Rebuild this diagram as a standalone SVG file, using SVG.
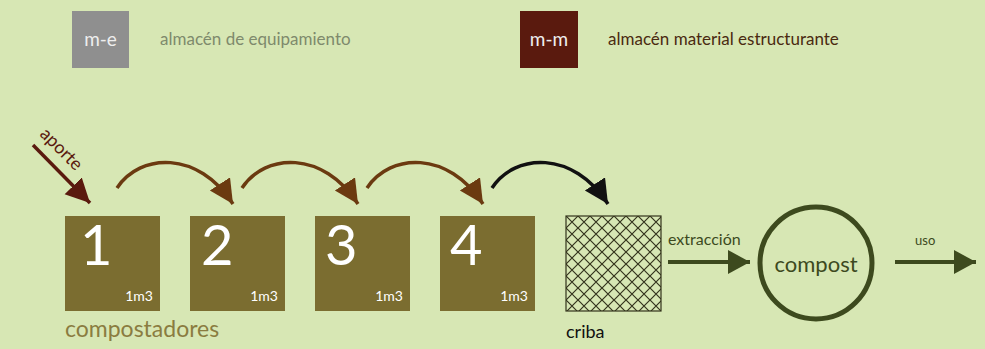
<svg xmlns="http://www.w3.org/2000/svg" width="985" height="349" viewBox="0 0 985 349">
<style>
text{font-family:Lato,"Open Sans","DejaVu Sans",sans-serif}
.box{fill:#7b6d30}
.num{fill:#ffffff;font-size:56px}
.vol{fill:#ffffff;font-size:14px;text-anchor:end}
.arcb{fill:none;stroke:#6b3a10;stroke-width:3.5}
.arck{fill:none;stroke:#111111;stroke-width:3.5}
.dark{fill:#3d4a1e}
.darks{stroke:#3d4a1e;stroke-width:4;fill:none}
</style>
<defs>
<marker id="hb" markerUnits="userSpaceOnUse" markerWidth="28" markerHeight="28" refX="24" refY="12" orient="auto" viewBox="0 0 28 28"><path d="M0,0 L24,12 L0,24 z" fill="#6b3a10"/></marker>
<marker id="hk" markerUnits="userSpaceOnUse" markerWidth="28" markerHeight="28" refX="24" refY="12" orient="auto" viewBox="0 0 28 28"><path d="M0,0 L24,12 L0,24 z" fill="#111111"/></marker>
<marker id="hm" markerUnits="userSpaceOnUse" markerWidth="28" markerHeight="28" refX="24" refY="12" orient="auto" viewBox="0 0 28 28"><path d="M0,0 L24,12 L0,24 z" fill="#5a1a0e"/></marker>
<marker id="hd" markerUnits="userSpaceOnUse" markerWidth="28" markerHeight="28" refX="22" refY="12" orient="auto" viewBox="0 0 28 28"><path d="M0,0 L22,12 L0,24 z" fill="#3d4a1e"/></marker>
<pattern id="hatch" patternUnits="userSpaceOnUse" width="12" height="12" x="566" y="216">
<path d="M0,0 L12,12 M12,0 L0,12" stroke="#33331c" stroke-width="1.2"/>
</pattern>
</defs>
<rect width="985" height="349" fill="#d7e7b4"/>

<g id="legend-me">
<rect x="72" y="11" width="57" height="57" fill="#8f8f8f"/>
<text x="100.5" y="46" font-size="19" fill="#eeeeee" text-anchor="middle">m-e</text>
<text x="160" y="45" font-size="17" fill="#7e8a6c">almacén de equipamiento</text>
</g>
<g id="legend-mm">
<rect x="520" y="11" width="58" height="57" fill="#5a1a0e"/>
<text x="549" y="46" font-size="19" fill="#eeeeee" text-anchor="middle">m-m</text>
<text x="608" y="45" font-size="17" fill="#4a2a10">almacén material estructurante</text>
</g>

<g id="c1"><rect class="box" x="65" y="216" width="95" height="95"/><text class="num" x="80" y="265">1</text><text class="vol" x="153" y="301">1m3</text></g>
<g id="c2"><rect class="box" x="190" y="216" width="95" height="95"/><text class="num" x="201" y="265">2</text><text class="vol" x="278" y="301">1m3</text></g>
<g id="c3"><rect class="box" x="315" y="216" width="95" height="95"/><text class="num" x="325" y="265">3</text><text class="vol" x="403" y="301">1m3</text></g>
<g id="c4"><rect class="box" x="440" y="216" width="95" height="95"/><text class="num" x="450" y="265">4</text><text class="vol" x="528" y="301">1m3</text></g>
<g id="compostadores"><text x="65" y="337" font-size="23" fill="#8a7c40">compostadores</text></g>

<g id="criba">
<rect x="566" y="216" width="95" height="95" fill="url(#hatch)" stroke="#33331c" stroke-width="1.2"/>
<text x="566" y="338" font-size="18" fill="#111111">criba</text>
</g>

<g id="compost">
<circle cx="816" cy="263" r="56" fill="none" stroke="#3d4a1e" stroke-width="5"/>
<text x="816" y="272" font-size="22" fill="#3d4a1e" text-anchor="middle">compost</text>
</g>

<g id="connectors">
<line x1="33" y1="145" x2="90" y2="203" stroke="#5a1a0e" stroke-width="3.5" marker-end="url(#hm)"/>
<text transform="translate(39,135) rotate(45)" font-size="18" fill="#5a1a0e">aporte</text>
<path class="arcb" d="M117,188 C140,153 198,150 233,204" marker-end="url(#hb)"/>
<path class="arcb" d="M242,188 C265,153 323,150 358,204" marker-end="url(#hb)"/>
<path class="arcb" d="M367,188 C390,153 448,150 483,204" marker-end="url(#hb)"/>
<path class="arck" d="M492,188 C515,153 573,150 608,204" marker-end="url(#hk)"/>
<line class="darks" x1="668" y1="262" x2="750" y2="262" marker-end="url(#hd)"/>
<text x="668" y="245" font-size="16" class="dark">extracción</text>
<line class="darks" x1="895" y1="262" x2="976" y2="262" marker-end="url(#hd)"/>
<text x="915" y="245" font-size="13" class="dark">uso</text>
</g>
</svg>
